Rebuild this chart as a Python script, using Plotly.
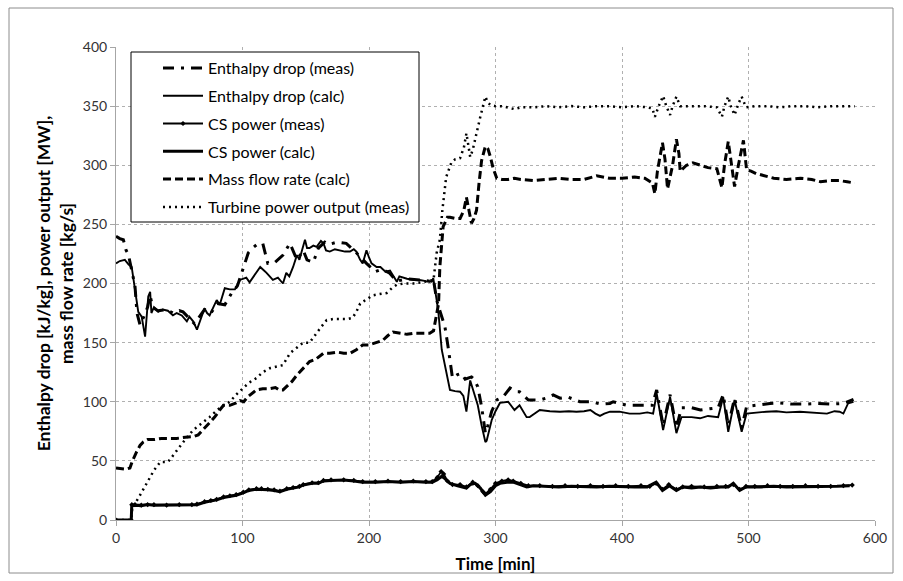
import plotly.graph_objects as go

# ---------------- data ----------------
enth_calc_t = [0, 3, 7, 10, 12.4, 15, 17.6, 20.3, 23, 25.5, 27, 28, 30, 33.4, 37, 41, 45, 48, 52, 56, 58, 61, 64, 67, 70, 72, 74, 77, 79.6, 82, 86, 90, 94, 98, 103, 105.6, 110, 114, 117, 119, 124, 128, 132, 134.6, 137, 140, 143, 145, 147, 149.4, 151, 153, 156, 158.6, 162, 164, 166, 169, 173, 177, 181, 185, 188, 190, 193, 195, 198, 200, 202, 206, 209, 213, 216.6, 220, 222, 224, 230, 236, 240, 245, 249.6, 250.8, 252, 254.7, 257.5, 260, 264, 268, 272, 274.6, 277, 280, 282.5, 286, 289, 292, 293, 295, 297, 300, 303.5, 310, 315, 319, 324.6, 327, 335, 343, 351, 358, 364, 370, 375, 379, 382.6, 386, 390.5, 398, 406, 414, 420, 424.6, 427.4, 432.5, 438, 443, 447, 455, 461.7, 468, 476, 480, 484, 489, 494.6, 498.5, 506, 514, 522, 530, 540.7, 550, 562, 568, 572, 575, 578.7, 583]
enth_calc_v = [217, 219, 220, 216, 214, 196, 176, 172, 155, 189, 193, 175, 180, 176, 178, 177, 173, 175, 173, 168, 172, 168, 161, 170, 179, 175, 173, 180, 186, 182, 196, 195, 195, 203, 205, 201, 208, 214, 211, 209, 203, 205, 200, 209, 206, 214, 224, 220, 228, 237, 230, 230, 232, 231, 236, 234, 228, 227, 229, 228, 227, 227, 229, 227, 220, 217, 228, 222, 217, 214, 214, 210, 211, 205, 201.5, 206, 204, 203, 203, 202, 201.5, 204.6, 197, 177.6, 144, 130, 110, 109, 108.5, 105, 91.6, 118, 110, 97, 80, 66, 67, 75, 84.6, 92, 99, 100, 93, 97, 87, 87, 93, 92, 91.6, 92, 91.6, 92, 93, 90, 88, 90, 91.6, 91.6, 90, 90, 91, 90, 107, 76, 104, 73.5, 87, 87, 86, 88, 87, 104, 74.6, 101.5, 74.6, 90, 91, 91.6, 92, 91, 91.6, 91, 90, 92, 91.6, 90, 98.6, 100]

enth_meas_t = [0, 3, 5.8, 8, 9.7, 12, 15, 16.6, 19, 22, 25, 26.9, 29, 33, 40, 45, 50, 53, 58, 62, 66, 70, 75, 80, 86, 91.5, 96, 100.6, 104.6, 108, 111, 116, 117, 120, 125.7, 132, 137.5, 140, 143, 148, 151, 156, 160, 165, 168, 175, 182, 186, 190, 198, 202, 205, 210, 216, 222, 230, 240, 248, 251, 253.5, 256, 260, 262.5, 265, 266, 270, 273, 276, 281, 283, 286, 289, 292, 294, 297, 301, 306, 311.5, 317, 319, 326, 335, 340, 345.6, 351, 357, 362, 366.8, 376, 383, 390.5, 393, 403.7, 414, 424, 427.4, 432.5, 438, 443, 447, 455, 462, 470, 476, 480, 484, 489, 494.6, 498.5, 506, 517, 525, 535, 545, 555, 565, 575, 583]
enth_meas_v = [240, 238, 237, 228, 225, 212, 198, 175, 165, 172, 180, 190, 180, 177, 178, 175, 177, 176, 170, 166, 172, 178, 175, 183, 182, 192, 198, 213, 226, 230, 232.6, 234, 230, 217, 218, 224, 234, 228, 220, 228, 220, 218, 230, 235, 233, 235, 234, 230, 226, 217, 213, 210, 212, 209, 202, 204, 203, 202, 203, 186, 177, 163.5, 146.6, 129.6, 120, 123, 124, 119, 121, 119, 112.7, 95.8, 73.5, 80, 92, 101.5, 104, 111.6, 108.5, 108.5, 101.5, 101.5, 103, 105.7, 103, 104, 102, 100, 100, 98, 98.6, 100, 97, 97, 97, 110, 80, 106, 78, 95, 95, 93, 94, 95, 106, 80, 103, 78, 96, 97, 98.6, 99, 98, 98, 98.5, 98, 98.6, 102]

cs_calc_t = [0, 12, 12.5, 15, 20, 25, 30, 40, 50, 60, 64, 70, 75, 79.6, 85, 90, 95, 100.6, 105, 111, 115, 120, 125, 129.6, 135, 140, 145, 148, 155, 160, 164, 170, 180, 188, 195, 205, 215, 225, 235, 245, 250, 254, 257.5, 260, 264, 270, 277, 280, 284, 288, 292, 296, 300, 303.5, 309, 314, 319, 324.7, 330, 340, 350, 360, 370, 380, 390, 400, 410, 420, 427, 432, 437.5, 443, 448, 455, 462, 470, 478, 484, 488, 493, 498, 510, 520, 530, 540, 550, 560, 570, 580]
cs_calc_v = [0, 0, 12, 12.5, 12, 13, 12.5, 12.5, 12.5, 12.5, 13, 15, 16, 17, 19, 20, 21, 23, 25, 26, 26, 25.5, 25, 24, 26, 27, 28, 29.6, 31, 31, 33, 33.5, 33.8, 33, 32, 32, 32.5, 32, 32.5, 32, 32, 34, 37, 35, 31, 29, 27, 30, 31, 27, 21, 24, 29, 31, 32, 32, 30, 28, 29, 28.5, 28, 28.5, 28, 28, 28.5, 28, 28, 28, 32, 25, 29, 25, 28, 27, 28, 27, 28, 28, 31, 25, 28, 28, 28.5, 28, 28, 28, 28, 28.5, 29]

cs_meas_t = [0, 12, 12.5, 15, 20, 25, 30, 40, 50, 60, 64, 70, 75, 79.6, 85, 90, 95, 100.6, 105, 111, 115, 120, 125, 129.6, 135, 140, 145, 148, 155, 160, 164, 170, 180, 188, 195, 205, 215, 225, 235, 245, 250, 254, 257, 259, 262, 266, 272, 277, 282, 286, 290, 292, 296, 300, 305, 310, 314, 320, 326, 335, 345, 355, 365, 375, 385, 395, 405, 415, 422, 427, 432, 437, 443, 448, 455, 465, 475, 482, 488, 493, 498, 505, 515, 525, 535, 545, 555, 565, 575, 582]
cs_meas_v = [0, 0, 13, 13, 12.5, 13, 13, 12.5, 13, 13, 13.5, 15.5, 16.5, 17.5, 19.5, 20.5, 21.5, 23.5, 25.5, 26.5, 26.5, 26, 25.5, 24.5, 26.5, 27.5, 28.5, 30, 31.5, 31.5, 33.5, 34, 34, 33.5, 32.5, 32.5, 33, 32.5, 33, 32.5, 32.5, 36, 41, 39, 33, 30, 30, 28, 32, 29, 24, 22, 26, 31, 33, 34, 33, 31, 29, 29, 28.5, 29, 28.5, 29, 28.5, 29, 28.5, 29, 28.5, 31, 26, 30, 26, 28, 28.5, 28, 28.5, 28.5, 30, 26, 28.5, 28.5, 29, 28.5, 28.5, 29, 28.5, 28.5, 29, 29.5]

mass_t = [0, 5, 8, 11, 13, 16, 19, 21.6, 25, 30, 36, 42, 48, 55, 61, 65, 70, 74, 78, 82, 85, 90, 95, 98, 101, 104, 108, 111, 116, 121, 126, 129, 132, 135, 139, 143, 148, 153, 158, 164, 169, 175, 180, 185, 190, 195, 200, 205, 211, 215, 219, 225, 230, 236, 242, 248, 251, 252, 255, 256, 258.6, 262, 264, 268, 272, 275, 277, 279, 281, 283, 285, 287, 289, 292, 294, 296, 298, 301, 305, 310, 315, 320, 330, 340, 350, 360, 370, 380, 390, 400, 410, 418, 424, 426, 428, 432, 434, 436, 440, 443, 445, 446, 451, 456, 462, 468, 475, 479, 481, 484, 486, 489, 492, 496, 498.5, 502, 506, 512, 520, 530, 541, 550, 557, 565, 572, 578, 584]
mass_v = [44, 43, 43, 44, 50, 57, 63, 66, 68, 68, 69, 69, 69, 70, 70.5, 72, 78, 82, 87, 93, 97, 97, 99, 101, 100, 104, 107, 110, 111, 111, 112, 110, 110, 113, 117, 122.6, 128, 134, 136, 141, 141, 142, 141, 141, 144, 148, 148, 150, 152, 156, 159, 158, 157, 158, 158, 158, 160, 166, 183, 214, 248, 256, 256, 255, 255, 262, 273, 262, 251, 255, 262, 285, 304, 316, 314, 307, 298, 289, 288, 288, 289, 288, 287, 288, 289, 288, 288, 291, 289, 289, 290, 289, 285, 276, 295, 319, 305, 280, 300, 322, 310, 295, 300, 302, 300, 298, 297, 281, 300, 320, 305, 282, 300, 321, 296, 295, 293, 291, 289, 288, 289, 288, 286, 287, 287, 286, 285]

turb_t = [0, 12, 13, 15, 18, 21, 25, 30, 35, 41, 44, 48, 54, 61, 67, 74, 80, 85, 90, 95, 100, 105, 111, 116, 122, 127, 132, 137.5, 143, 148, 153, 157, 162, 166.5, 172, 178, 183, 187, 190, 193, 197, 203, 208, 214, 218, 222, 228, 235, 242, 251, 253.5, 256, 258, 261, 265, 268, 272, 275, 277, 279, 280, 282, 285, 288, 292, 294, 296, 300, 305, 310, 315, 320, 330, 340, 350, 360, 370, 380, 390, 400, 410, 420, 424, 426, 429, 432.5, 435, 438, 440, 443, 446, 455, 465, 475, 479, 481, 484, 486, 489, 492, 494.6, 498, 505, 515, 525, 535, 545, 555, 565, 575, 584]
turb_v = [0, 0, 12, 14, 19, 25, 33, 42, 49, 49, 53, 59, 67, 76, 81, 87, 93, 97, 100, 106, 111, 116, 120, 125, 128.5, 130, 131, 141, 146, 150, 150, 156, 163, 169, 170, 170, 170, 171, 176, 183, 186, 190, 191, 192, 196, 199, 200, 200, 201, 203, 226, 237, 262, 290, 302, 305, 306, 315, 327, 312, 307, 313, 328, 341, 358, 353, 351, 350, 350, 349, 347.5, 349, 349, 350, 349, 350, 349, 350, 350, 349, 350, 349, 348, 341, 350, 358.5, 350, 342.5, 350, 358, 350, 350, 350, 349, 341, 350, 358, 350, 342.5, 352, 358, 349, 350, 350, 349, 350, 350, 349, 350, 350, 350]

series_names = ["Enthalpy drop (meas)", "Enthalpy drop (calc)", "CS power (meas)",
                "CS power (calc)", "Mass flow rate (calc)", "Turbine power output (meas)"]

x_ticks = [0, 100, 200, 300, 400, 500, 600]
y_ticks = [0, 50, 100, 150, 200, 250, 300, 350, 400]

FONT = "Lato, Carlito, Calibri, sans-serif"

fig = go.Figure()
fig.add_trace(go.Scatter(x=enth_meas_t, y=enth_meas_v, name=series_names[0], mode="lines",
                         line=dict(color="black", width=3, dash="11px,7px,3px,7px"), legendgroup="a"))
fig.add_trace(go.Scatter(x=enth_calc_t, y=enth_calc_v, name=series_names[1], mode="lines",
                         line=dict(color="black", width=1.9), legendgroup="b"))
fig.add_trace(go.Scatter(x=cs_meas_t, y=cs_meas_v, name=series_names[2], mode="lines+markers",
                         line=dict(color="black", width=1.8),
                         marker=dict(symbol="diamond", size=4, color="black"), legendgroup="c"))
fig.add_trace(go.Scatter(x=cs_calc_t, y=cs_calc_v, name=series_names[3], mode="lines",
                         line=dict(color="black", width=3), legendgroup="d"))
fig.add_trace(go.Scatter(x=mass_t, y=mass_v, name=series_names[4], mode="lines",
                         line=dict(color="black", width=3, dash="8px,4px"), legendgroup="e"))
fig.add_trace(go.Scatter(x=turb_t, y=turb_v, name=series_names[5], mode="lines",
                         line=dict(color="black", width=2.5, dash="2px,4px"), legendgroup="f"))

L, R, T, B = 116, 875, 47, 520
W, H = 903, 581
pw, ph = R - L, B - T

def px(x):
    return (x - L) / pw

def py(y):
    return (B - y) / ph

shapes = [
    # outer chart border
    dict(type="rect", xref="paper", yref="paper", x0=px(9), x1=px(893), y0=py(573), y1=py(8),
         line=dict(color="#8c8c8c", width=1), fillcolor="rgba(0,0,0,0)", layer="below"),
    # legend box
    dict(type="rect", xref="paper", yref="paper", x0=px(131), x1=px(419), y0=py(222), y1=py(52),
         line=dict(color="black", width=1), fillcolor="white", layer="above"),
]

fig.update_layout(
    width=W, height=H,
    margin=dict(l=L, r=W - R, t=T, b=H - B, pad=0, autoexpand=False),
    paper_bgcolor="white", plot_bgcolor="white",
    font=dict(family=FONT, size=13, color="#404040"),
    showlegend=True,
    legend=dict(x=px(158), y=py(51), xanchor="left", yanchor="top",
                bgcolor="rgba(0,0,0,0)", borderwidth=0,
                font=dict(family=FONT, size=16, color="black"),
                traceorder="grouped", tracegroupgap=4, itemwidth=40),
    shapes=shapes,
    xaxis=dict(range=[0, 600], tickvals=x_ticks, ticktext=[str(v) for v in x_ticks],
               showgrid=True, gridcolor="#b0b0b0", griddash="3px,3px", gridwidth=1,
               showline=True, linecolor="#a6a6a6", linewidth=1, zeroline=False,
               ticks="outside", ticklen=5, tickcolor="#a6a6a6", automargin=False,
               tickfont=dict(family=FONT, size=14, color="#333333"),
               title=dict(text="<b>Time [min]</b>", standoff=13,
                          font=dict(family=FONT, size=17, color="black"))),
    yaxis=dict(range=[0, 400], tickvals=y_ticks, ticktext=[str(v) for v in y_ticks],
               showgrid=True, gridcolor="#b0b0b0", griddash="3px,3px", gridwidth=1,
               showline=True, linecolor="#a6a6a6", linewidth=1, zeroline=False,
               ticks="outside", ticklen=5, tickcolor="#a6a6a6", automargin=False,
               tickfont=dict(family=FONT, size=14, color="#333333"),
               title=dict(text="<b>Enthalpy drop [kJ/kg], power output [MW],<br>mass flow rate [kg/s]</b>",
                          standoff=4, font=dict(family=FONT, size=17.5, color="black"))),
)

fig.write_html("out.html")
